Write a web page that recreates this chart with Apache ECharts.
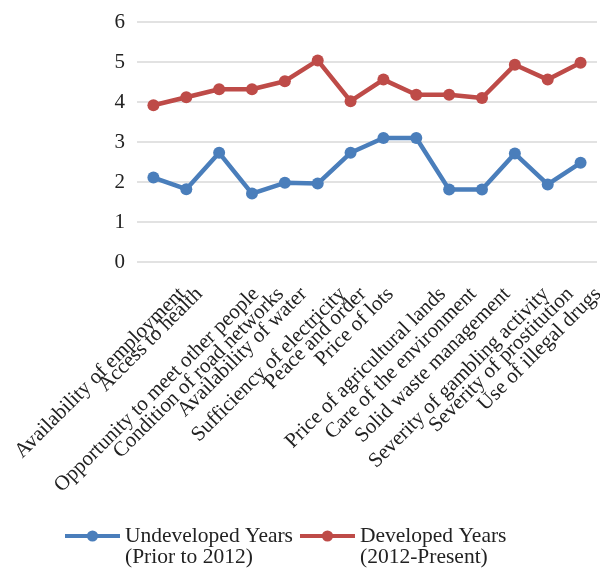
<!DOCTYPE html>
<html>
<head>
<meta charset="utf-8">
<script src="https://cdn.jsdelivr.net/npm/echarts@6/dist/echarts.min.js"></script>
<style>
  html, body { margin: 0; padding: 0; background: #fff; }
  #chart { width: 600px; height: 574px; }
</style>
</head>
<body>
<div id="chart"></div>
<script>
const categories = [
  'Availability of employment',
  'Access to health',
  'Opportunity to meet other people',
  'Condition of road networks',
  'Availability of water',
  'Sufficiency of electricity',
  'Peace and order',
  'Price of lots',
  'Price of agricultural lands',
  'Care of the environment',
  'Solid waste management',
  'Severity of gambling activity',
  'Severity of prostitution',
  'Use of illegal drugs'
];
const undeveloped = [2.11, 1.82, 2.73, 1.71, 1.98, 1.96, 2.73, 3.10, 3.10, 1.81, 1.81, 2.71, 1.94, 2.48];
const developed = [3.92, 4.12, 4.32, 4.32, 4.52, 5.04, 4.02, 4.56, 4.18, 4.18, 4.10, 4.93, 4.56, 4.98];
const seriesNames = ['Undeveloped Years\n(Prior to 2012)', 'Developed Years\n(2012-Present)'];

const font = '"Liberation Serif", "Times New Roman", serif';
const labelSize = 21;

// Excel nudges longer rotated labels further right; mimic that per label:
// slide along the text with negative right padding, push down with a spacer line
const ctx = document.createElement('canvas').getContext('2d');
ctx.font = labelSize + 'px ' + font;
const labelRich = { t: { fontFamily: font, fontSize: labelSize, color: '#222' } };
const axisData = categories.map((name, i) => {
  const w = ctx.measureText(name).width;
  const dx = Math.max(0, 0.167 * w - 10);
  const a = dx / Math.SQRT2;
  labelRich['s' + i] = { fontSize: 1, lineHeight: Math.max(1, 2 * a) };
  return { value: name, textStyle: { padding: [0, -a, 0, 0] } };
});

const chart = echarts.init(document.getElementById('chart'));

chart.setOption({
  animation: false,
  textStyle: { fontFamily: font },
  color: ['#4a7ebb', '#be4b48'],
  grid: { left: 137, right: 3, top: 22, bottom: 312, containLabel: false, outerBoundsMode: 'none' },
  legend: {
    left: 58,
    top: 499,
    itemWidth: 55,
    itemHeight: 14,
    itemGap: 5,
    lineStyle: { width: 4 },
    formatter: (name) => '\n' + name,
    textStyle: {
      fontFamily: font,
      fontSize: 21.5,
      color: '#222',
      lineHeight: 21
    },
    data: seriesNames
  },
  xAxis: {
    type: 'category',
    data: axisData,
    boundaryGap: true,
    axisLine: { show: false },
    axisTick: { show: false },
    axisLabel: {
      interval: 0,
      rotate: 45,
      margin: 29,
      fontFamily: font,
      fontSize: labelSize,
      color: '#222',
      formatter: (value, idx) => '{s' + idx + '|\u00a0}\n{t|' + value + '}',
      rich: labelRich
    }
  },
  yAxis: {
    type: 'value',
    min: 0,
    max: 6,
    interval: 1,
    axisLine: { show: false },
    axisTick: { show: false },
    axisLabel: { margin: 12, fontFamily: font, fontSize: 21, color: '#222' },
    splitLine: { lineStyle: { color: '#d9d9d9', width: 1.5 } }
  },
  series: [
    {
      name: seriesNames[0],
      type: 'line',
      data: undeveloped,
      symbol: 'circle',
      symbolSize: 12,
      lineStyle: { width: 4.5 }
    },
    {
      name: seriesNames[1],
      type: 'line',
      data: developed,
      symbol: 'circle',
      symbolSize: 12,
      lineStyle: { width: 4.5 }
    }
  ]
});
</script>
</body>
</html>
